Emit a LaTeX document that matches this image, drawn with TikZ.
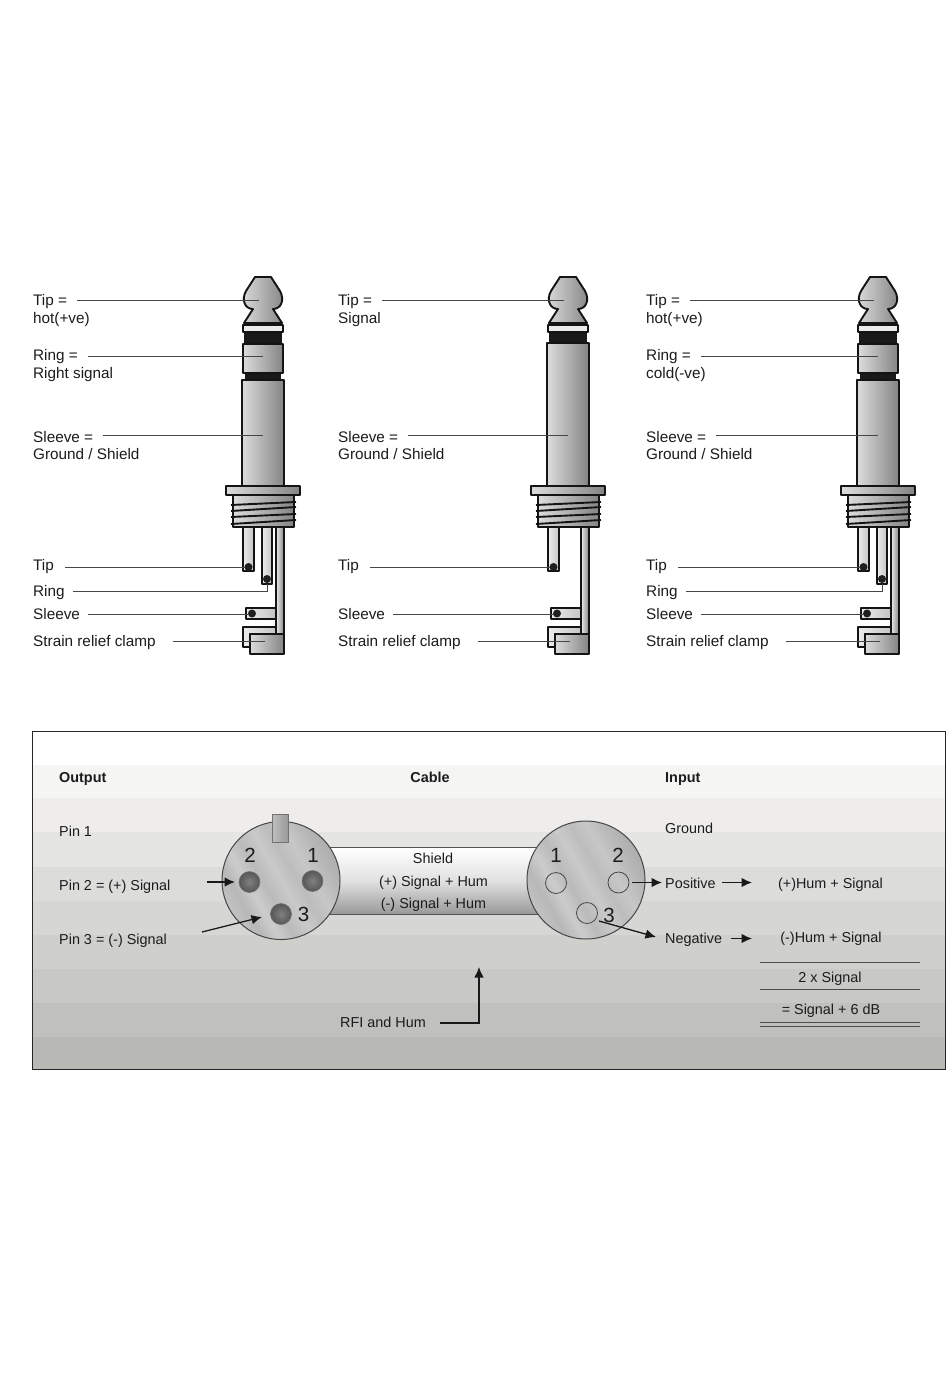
\documentclass[tikz,border=0pt]{standalone}
\usepackage{fontspec}
\setmainfont{Liberation Sans}
\usetikzlibrary{arrows.meta,calc}
\definecolor{ink}{HTML}{1C1C1C}
\definecolor{mL}{HTML}{DCDCDC}
\definecolor{mM}{HTML}{B2B2B2}
\definecolor{mR}{HTML}{848484}
\definecolor{tL}{HTML}{ECECEC}
\definecolor{tR}{HTML}{C4C4C4}
\pgfdeclarehorizontalshading{connshade}{100bp}{
 color(0bp)=(white!74!black);
 color(25bp)=(white!76!black);
 color(31bp)=(white!72!black);
 color(37bp)=(white!80!black);
 color(43bp)=(white!73!black);
 color(50bp)=(white!79!black);
 color(56bp)=(white!74!black);
 color(62bp)=(white!78!black);
 color(69bp)=(white!72!black);
 color(75bp)=(white!68!black);
 color(100bp)=(white!66!black)}
\tikzset{
 outl/.style={draw=black!92,line width=1.9pt,line join=round},
 metal/.style={outl,left color=mL,middle color=mM,right color=mR},
 term/.style={outl,left color=tL,right color=tR},
 dot/.style={fill=black!88},
 lab/.style={inner sep=0pt,anchor=base west,text=ink,font=\fontsize{15.3}{18}\selectfont},
 small/.style={inner sep=0pt,anchor=base west,text=ink,font=\fontsize{14.4}{17}\selectfont},
 smallc/.style={small,anchor=base},
 head/.style={small,font=\fontsize{14.4}{17}\selectfont\bfseries},
 digit/.style={inner sep=0pt,anchor=center,text=ink,font=\fontsize{20.5}{23}\selectfont},
 leader/.style={draw=black!72,line width=1pt},
 arr/.style={draw=black!90,line width=1.3pt,-{Latex[length=10.5pt,width=9.5pt]}},
 rulel/.style={draw=black!70,line width=1pt},
 conn/.style={circle,draw=black!72,line width=1pt,minimum size=118pt,inner sep=0pt,shading=connshade,shading angle=30},
 pinf/.style={circle,draw=black!55,line width=0.6pt,minimum size=21pt,inner sep=0pt,inner color=black!50,outer color=black!66},
 pino/.style={circle,draw=black!72,line width=0.8pt,minimum size=21pt,inner sep=0pt},
}
% name, shift, ring flag
\newcommand\plugbody[3]{%
\begin{scope}[xshift=#2pt]
 \ifnum#3=1
  \fill[black!90] (244,332) rectangle (282,344);
  \fill[black!90] (245,372) rectangle (281,381);
  \draw[metal] (243,344) rectangle (283,373);
  \draw[metal] (242,380) rectangle (284,486);
 \else
  \fill[black!90] (244,332) rectangle (282,344);
  \draw[metal] (242,343) rectangle (284,486);
 \fi
 \draw[metal] (255,277) -- (271,277) -- (280,291)
   .. controls (285,300) and (281,309) .. (273,309)
   -- (282,323) -- (244,323) -- (253,309)
   .. controls (245,309) and (241,300) .. (246,291) -- cycle;
 \draw[outl,fill=white!92!black] (243,325) rectangle (283,332);
 \draw[outl] (244,323.5) -- (282,323.5);
 \draw[metal] (233,495) rectangle (294,527);
 \draw[metal] (226,486) rectangle (300,495);
 \draw[outl] (231,505) -- (296,502);
 \draw[outl] (231,511) -- (296,507);
 \draw[outl] (231,517) -- (296,514);
 \draw[outl] (231,524) -- (296,520);
 \draw[term] (243,527) rectangle (254,571);
 \fill[dot] (248.5,567) circle (4);
 \ifnum#3=1
  \draw[term] (262,527) rectangle (272,584);
  \fill[dot] (267,579) circle (4);
 \fi
 \draw[term] (246,608) rectangle (276,619);
 \fill[dot] (252,613.5) circle (4);
 \draw[term] (243,647) -- (243,627) -- (277,627) -- (277,634) -- (250,634) -- (250,647) -- cycle;
 \draw[metal,left color=tL,middle color=mM,right color=mR] (276,527) rectangle (284,634);
 \draw[metal] (250,634) rectangle (284,654);
 \coordinate (#1tip) at (259,300);
 \coordinate (#1ring) at (263,356);
 \coordinate (#1slv) at (263,435);
 \coordinate (#1ttip) at (245,567);
 \coordinate (#1tringb) at (267,591);
 \coordinate (#1tring) at (267,584);
 \coordinate (#1tslv) at (248,614);
 \coordinate (#1clamp) at (265,641);
\end{scope}}
% node name, x, baseline, text, gap, target
\newcommand\leadlab[6]{%
 \node[lab] (#1) at (#2,#3) {#4};
 \draw[leader,shorten <=#5pt] (#1.east |- #6) -- (#6);}
\newcommand\ringlead[4]{%
 \node[lab] (#1) at (#2,#3) {Ring};
 \draw[leader,shorten <=#4pt] (#1.east |- #1b) -- (#1b) -- (#1e);}
\begin{document}
\begin{tikzpicture}[x=1pt,y=-1pt]
\useasboundingbox (0,0) rectangle (950,1378);
\fill[white] (0,0) rectangle (950,1378);
\plugbody{a}{0}{1}
\plugbody{b}{305}{0}
\plugbody{c}{615}{1}
% jack 1 labels
\leadlab{a1}{33}{305}{Tip =}{10}{atip}
\node[lab] (a1b) at (33,323) {hot(+ve)};
\leadlab{a2}{33}{360}{Ring =}{10}{aring}
\node[lab] (a2b) at (33,378) {Right signal};
\leadlab{a3}{33}{442}{Sleeve =}{10}{aslv}
\node[lab] (a3b) at (33,459.5) {Ground / Shield};
\leadlab{a4}{33}{570}{Tip}{11}{attip}
\coordinate (a5b) at (atringb); \coordinate (a5e) at (atring);
\ringlead{a5}{33}{596}{8}
\leadlab{a6}{33}{619}{Sleeve}{8}{atslv}
\leadlab{a7}{33}{646}{Strain relief clamp}{17}{aclamp}
% jack 2 labels
\leadlab{b1}{338}{305}{Tip =}{10}{btip}
\node[lab] (b1b) at (338,323) {Signal};
\leadlab{b3}{338}{442}{Sleeve =}{10}{bslv}
\node[lab] (b3b) at (338,459.5) {Ground / Shield};
\leadlab{b4}{338}{570}{Tip}{11}{bttip}
\leadlab{b6}{338}{619}{Sleeve}{8}{btslv}
\leadlab{b7}{338}{646}{Strain relief clamp}{17}{bclamp}
% jack 3 labels
\leadlab{c1}{646}{305}{Tip =}{10}{ctip}
\node[lab] (c1b) at (646,323) {hot(+ve)};
\leadlab{c2}{646}{360}{Ring =}{10}{cring}
\node[lab] (c2b) at (646,378) {cold(-ve)};
\leadlab{c3}{646}{442}{Sleeve =}{10}{cslv}
\node[lab] (c3b) at (646,459.5) {Ground / Shield};
\leadlab{c4}{646}{570}{Tip}{11}{cttip}
\coordinate (c5b) at (ctringb); \coordinate (c5e) at (ctring);
\ringlead{c5}{646}{596}{8}
\leadlab{c6}{646}{619}{Sleeve}{8}{ctslv}
\leadlab{c7}{646}{646}{Strain relief clamp}{17}{cclamp}
% panel
\fill[white] (32,731) rectangle (945,765);
\foreach \ya/\yb/\col in {765/798/F5F5F4,798/832/EEEDEC,832/867/E5E5E4,867/901/DCDCDB,901/935/D6D6D4,935/969/CFCFCC,969/1003/C8C8C6,1003/1037/C0C0BE,1037/1069/B8B8B5}{
  \definecolor{bandc}{HTML}{\col}
  \fill[bandc] (32,\ya) rectangle (945,\yb);
}
\draw[black!85,line width=0.8pt] (32,731) rectangle (945,1069);
% cable
\node[minimum width=210pt,minimum height=66pt,inner sep=0pt,top color=white,bottom color=black!40,middle color=white!88!black] (cable) at (433,881) {};
\draw[black!68,line width=1.2pt] (cable.north west) -- (cable.north east);
\draw[black!68,line width=1.2pt] (cable.south west) -- (cable.south east);
% left connector
\node[conn] (xl) at (281,880.5) {};
\node[draw=black!55,line width=0.6pt,minimum width=16pt,minimum height=28pt,inner sep=0pt,left color=white!75!black,right color=white!60!black] (notch) at (280,828) {};
\node[pinf] (l2) at (249.5,882) {};
\node[pinf] (l1) at (312.5,881) {};
\node[pinf] (l3) at (281,914) {};
\node[digit] (dl2) at (250,855) {2};
\node[digit] (dl1) at (313,855) {1};
\node[digit] (dl3) at (303.5,914.5) {3};
% right connector
\node[conn] (xr) at (586,880) {};
\node[pino] (r1) at (556,883) {};
\node[pino] (r2) at (618.5,882.5) {};
\node[pino] (r3) at (587,913) {};
\node[digit] (dr1) at (556,855) {1};
\node[digit] (dr2) at (618,855) {2};
\node[digit] (dr3) at (609,915) {3};
% cable text
\node[smallc] (cs) at (433,863) {Shield};
\node[smallc] (cp) at (433.5,886) {(+) Signal + Hum};
\node[smallc] (cm) at (433.5,908) {(-) Signal + Hum};
% texts
\node[head] (hout) at (59,782) {Output};
\node[head,anchor=base] (hcab) at (430,782) {Cable};
\node[head] (hin) at (665,782) {Input};
\node[small] (p1) at (59,836) {Pin 1};
\node[small] (p2) at (59,890) {Pin 2 = (+) Signal};
\node[small] (p3) at (59,944) {Pin 3 = (-) Signal};
\node[small] (ig) at (665,833) {Ground};
\node[small] (ip) at (665,888) {Positive};
\node[small] (in) at (665,943) {Negative};
\node[smallc] (hp) at (830.5,888) {(+)Hum + Signal};
\node[smallc] (hn) at (831,942) {(-)Hum + Signal};
\node[smallc] (two) at (830,982) {2 x Signal};
\node[smallc] (six) at (831,1014) {= Signal + 6 dB};
\node[small] (rfi) at (340,1027) {RFI and Hum};
% arrows
\coordinate (p2s) at (207,882);
\coordinate (p2e) at (235,882);
\coordinate (p3s) at (202,932);
\coordinate (p3e) at (262,917);
\draw[arr] (p2s) -- (p2e);
\draw[arr] (p3s) -- (p3e);
\coordinate (r2s) at (632,882.5);
\coordinate (r2e) at (662,882.5);
\draw[arr] (r2s) -- (r2e);
\coordinate (r3s) at (599,921);
\coordinate (r3e) at (656,937);
\draw[arr] (r3s) -- (r3e);
\coordinate (ps) at (722,882.5);
\coordinate (pe) at (752,882.5);
\draw[arr] (ps) -- (pe);
\coordinate (ns) at (731,938.5);
\coordinate (ne) at (752,938.5);
\draw[arr] (ns) -- (ne);
\coordinate (rf1) at (440,1023);
\coordinate (rf2) at (479,967);
\draw[arr] (rf1) -| (rf2);
% sum rules
\coordinate (s1a) at (760,962); \coordinate (s1b) at (920,962);
\coordinate (s2a) at (760,989); \coordinate (s2b) at (920,989);
\coordinate (s3a) at (760,1022.5); \coordinate (s3b) at (920,1022.5);
\coordinate (s4a) at (760,1026.5); \coordinate (s4b) at (920,1026.5);
\draw[rulel] (s1a) -- (s1b);
\draw[rulel] (s2a) -- (s2b);
\draw[rulel] (s3a) -- (s3b);
\draw[rulel] (s4a) -- (s4b);
\end{tikzpicture}
\end{document}
